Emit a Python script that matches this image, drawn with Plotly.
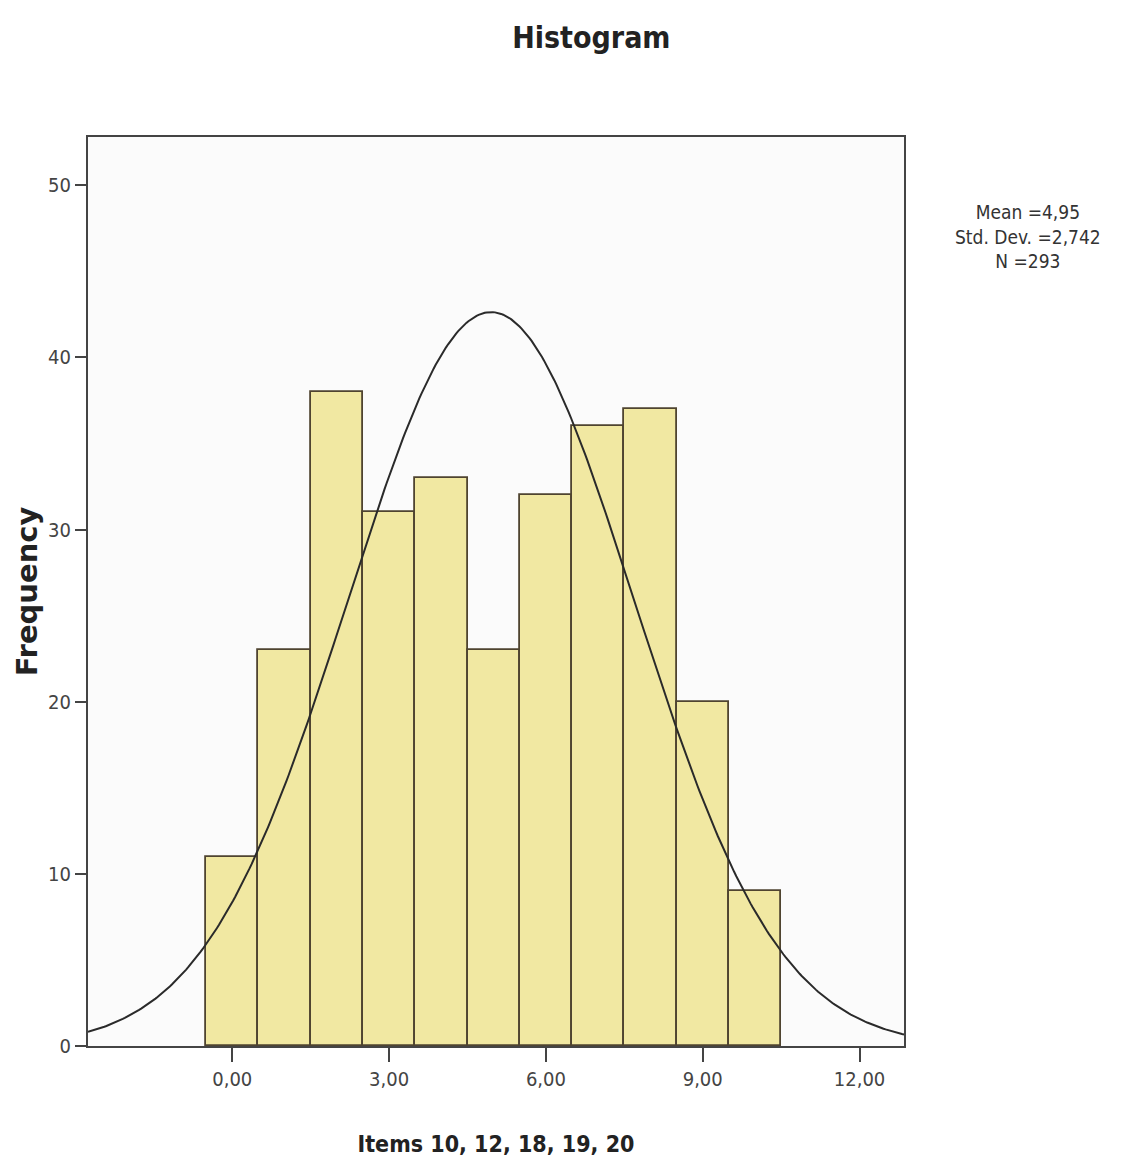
import numpy as np
import plotly.graph_objects as go

# Data
bin_centers = [0, 1, 2, 3, 4, 5, 6, 7, 8, 9, 10]
frequencies = [11, 23, 38, 31, 33, 23, 32, 36, 37, 20, 9]
x_tick_vals = [0, 3, 6, 9, 12]
x_tick_text = ["0,00", "3,00", "6,00", "9,00", "12,00"]
y_tick_vals = [0, 10, 20, 30, 40, 50]
mean_val = 4.95
sd_val = 2.742
n_val = 293
bin_width = 1.0

x_range = [-2.76, 12.85]
y_range = [0, 52.8]

narrow = "Liberation Sans Narrow, Arial Narrow, DejaVu Sans Condensed, sans-serif"

fig = go.Figure()
fig.add_trace(go.Bar(
    x=bin_centers, y=frequencies, width=[bin_width] * len(bin_centers),
    marker=dict(color="#F1E8A2", line=dict(color="#4f4430", width=1.8)),
    showlegend=False, hoverinfo="x+y"
))

# Normal curve from stated mean/sd/N
xc = np.linspace(x_range[0], x_range[1], 400)
yc = n_val * bin_width / (sd_val * np.sqrt(2 * np.pi)) * np.exp(-0.5 * ((xc - mean_val) / sd_val) ** 2)
fig.add_trace(go.Scatter(x=xc, y=yc, mode="lines",
                         line=dict(color="#2a2a2a", width=2), showlegend=False,
                         hoverinfo="skip"))

fig.update_layout(
    width=1135, height=1165,
    margin=dict(l=88, r=231, t=137, b=119),
    paper_bgcolor="white",
    plot_bgcolor="#FBFBFB",
    bargap=0,
    title=dict(text="<b>Histogram</b>", x=0.521, xanchor="center", y=0.968, yanchor="middle",
               font=dict(family=narrow, size=30, color="#222")),
    font=dict(family=narrow, color="#333"),
    annotations=[dict(
        text="Mean =4,95<br>Std. Dev. =2,742<br>N =293",
        xref="paper", yref="paper", x=1.152, y=0.891, xanchor="center", yanchor="middle",
        showarrow=False, align="center",
        font=dict(family=narrow, size=19, color="#333"))]
)
fig.update_xaxes(
    range=x_range, tickvals=x_tick_vals, ticktext=x_tick_text,
    ticks="outside", ticklen=14, tickwidth=2, tickcolor="#444",
    showline=True, linecolor="#444", linewidth=2, mirror=True,
    showgrid=False, zeroline=False,
    tickfont=dict(family=narrow, size=20, color="#444"),
    title=dict(text="<b>Items 10, 12, 18, 19, 20</b>", standoff=46,
               font=dict(family=narrow, size=23, color="#222"))
)
fig.update_yaxes(
    range=y_range, tickvals=y_tick_vals,
    ticks="outside", ticklen=11, tickwidth=2, tickcolor="#444",
    showline=True, linecolor="#444", linewidth=2, mirror=True,
    showgrid=False, zeroline=False,
    tickfont=dict(family=narrow, size=20, color="#444"),
    title=dict(text="<b>Frequency</b>", standoff=2,
               font=dict(family="DejaVu Sans, sans-serif", size=29, color="#222"))
)

fig.write_html("out.html")
